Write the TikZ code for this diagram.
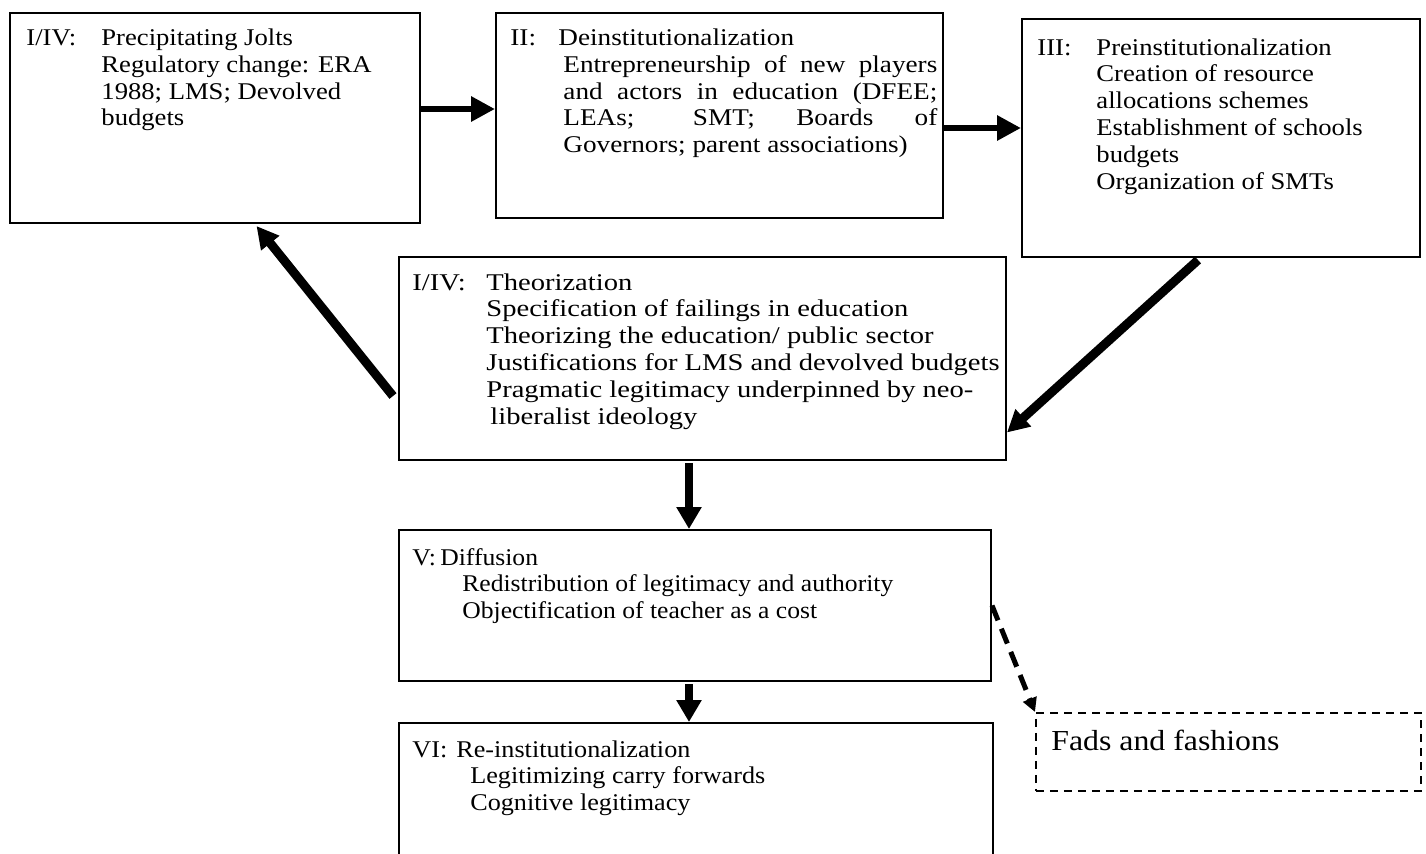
\documentclass[tikz,border=0pt]{standalone}
\usepackage{fontspec}
\setmainfont{Liberation Serif}
\usetikzlibrary{arrows.meta}

% text of a stage: horizontal stretch, lines
\newcommand{\stagelines}[2]{\scalebox{#1}[1]{\parbox[t]{400pt}{\raggedright #2}}}

\begin{document}
\begin{tikzpicture}[
		x=0.5pt, y=-0.5pt,
		stage/.style={draw, line width=1pt, anchor=north west, inner sep=0pt},
		stagetext/.style={anchor=base west, inner sep=0pt,
			font=\fontsize{12}{13.4}\selectfont},
		harr/.style={-{Triangle[length=12pt, width=12pt]}, line width=3pt},
		varr/.style={-{Triangle[length=11pt, width=12pt]}, line width=4pt},
		darr/.style={-{Triangle[length=11pt, width=11pt]}, line width=4.5pt},
		fadarr/.style={-{Triangle[length=7pt, width=7pt]}, line width=2.5pt, dash pattern=on 8pt off 4.5pt}
	]
	\useasboundingbox (0,0) rectangle (1426,853);
	\clip (0,0) rectangle (1426,853);

	% boxes of the stages
	\node[stage, minimum width=205pt, minimum height=105pt] (jolts) at (9,12) {};
	\node[stage, minimum width=223.5pt, minimum height=102.5pt] (deinst) at (495,12) {};
	\node[stage, minimum width=199pt, minimum height=119pt] (preinst) at (1021,18) {};
	\node[stage, minimum width=303.5pt, minimum height=101.5pt] (theor) at (398,256) {};
	\node[stage, minimum width=296pt, minimum height=75.5pt] (diffus) at (398,529) {};
	\node[stage, minimum width=297pt, minimum height=80pt] (reinst) at (398,722) {};
	\node[stage, line width=0.75pt, dash pattern=on 4pt off 3pt,
		minimum width=192.5pt, minimum height=39pt] (fads) at (1035,712) {};

	% texts of the stages
	\node[stagetext] (jolts-txt) at (26,45.5) {\stagelines{1.11}{%
		\makebox[33.8pt][l]{I/IV:}Precipitating Jolts\\
		\hspace*{33.8pt}Regulatory change: ERA\\
		\hspace*{33.8pt}1988; LMS; Devolved\\
		\hspace*{33.8pt}budgets}};
	\node[stagetext] (deinst-txt) at (510,45.5) {\stagelines{1.133}{%
		\makebox[21.2pt][l]{II:}Deinstitutionalization\\
		\hspace*{23.4pt}\makebox[165pt][s]{Entrepreneurship of new players}\\
		\hspace*{23.4pt}\makebox[165pt][s]{and actors in education (DFEE;}\\
		\hspace*{23.4pt}\makebox[165pt][s]{LEAs; SMT; Boards of}\\
		\hspace*{23.4pt}Governors; parent associations)}};
	\node[stagetext] (preinst-txt) at (1037,55) {\stagelines{1.11}{%
		\makebox[26.6pt][l]{III:}Preinstitutionalization\\
		\hspace*{26.6pt}Creation of resource\\
		\hspace*{26.6pt}allocations schemes\\
		\hspace*{26.6pt}Establishment of schools\\
		\hspace*{26.6pt}budgets\\
		\hspace*{26.6pt}Organization of SMTs}};
	\node[stagetext] (theor-txt) at (412,290) {\stagelines{1.19}{%
		\makebox[31.1pt][l]{I/IV:}Theorization\\
		\hspace*{31.1pt}Specification of failings in education\\
		\hspace*{31.1pt}Theorizing the education/ public sector\\
		\hspace*{31.1pt}Justifications for LMS and devolved budgets\\
		\hspace*{31.1pt}Pragmatic legitimacy underpinned by neo-\\
		\hspace*{32.8pt}liberalist ideology}};
	\node[stagetext] (diffus-txt) at (412,565) {\stagelines{1.067}{%
		\makebox[13.1pt][l]{V:}Diffusion\\
		\hspace*{23.4pt}Redistribution of legitimacy and authority\\
		\hspace*{23.4pt}Objectification of teacher as a cost}};
	\node[stagetext] (reinst-txt) at (412,757) {\stagelines{1.09}{%
		\makebox[20.2pt][l]{VI:}Re-institutionalization\\
		\hspace*{26.6pt}Legitimizing carry forwards\\
		\hspace*{26.6pt}Cognitive legitimacy}};
	\node[stagetext, font=\fontsize{14.5}{16}\selectfont] (fads-txt) at (1051,750.5)
		{\scalebox{1.097}[1]{Fads and fashions}};

	% connectors
	\draw[harr] ([yshift=4.5pt]jolts.east) -- ([yshift=3.25pt]deinst.west);
	\draw[harr] ([yshift=-6.25pt]deinst.east) -- ([yshift=5pt]preinst.west);
	\draw[darr] ([xshift=-11.5pt, yshift=-1pt]preinst.south) -- ([yshift=-37pt]theor.east);
	\draw[darr] ([xshift=-2.5pt, yshift=-18.75pt]theor.west) -- ([xshift=20.75pt, yshift=-1pt]jolts.south);
	\draw[varr] ([xshift=-6.75pt, yshift=-1pt]theor.south) -- ([xshift=-3pt]diffus.north);
	\draw[varr] ([xshift=-3pt, yshift=-1pt]diffus.south) -- ([xshift=-3.5pt]reinst.north);
	\draw[fadarr] (diffus.east) -- (fads.north west);
\end{tikzpicture}
\end{document}
